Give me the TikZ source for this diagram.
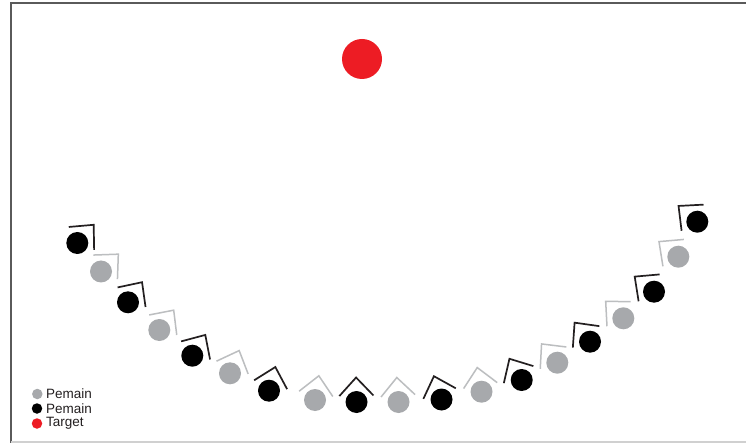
\documentclass[tikz,border=0pt]{standalone}
\usepackage{fontspec}
\setmainfont{Liberation Sans}
\usetikzlibrary{calc}
\definecolor{robgray}{HTML}{A7A9AC}
\definecolor{tgtred}{HTML}{ED1C24}
\definecolor{darkline}{HTML}{231F20}
\definecolor{lightline}{HTML}{BCBEC0}
\definecolor{framedark}{HTML}{5A5A5A}
\definecolor{framelight}{HTML}{D0D0D0}
\tikzset{
  blk/.style={circle, fill=black, minimum size=22pt, inner sep=0pt},
  gry/.style={circle, fill=robgray, minimum size=22pt, inner sep=0pt},
  blkline/.style={draw=darkline, line width=1.7pt},
  gryline/.style={draw=lightline, line width=1.5pt},
  target/.style={circle, fill=tgtred, minimum size=40pt, inner sep=0pt},
  legdot/.style={circle, minimum size=10.5pt, inner sep=0pt},
  legtext/.style={anchor=west, inner sep=0pt, text=darkline, font=\fontsize{13.5}{15}\selectfont},
}
% name, x, y (screen px), heading (deg), type
\newcommand{\robot}[5]{%
  \node[#5] (#1) at (#2,-#3) {};
  \coordinate (#1-apex) at ($(#1)+(#4:24.5)$);
  \draw[#5line] ($(#1-apex)+({#4+180+43}:25)$) -- (#1-apex) -- ($(#1-apex)+({#4+180-43}:25)$);
}
\begin{document}
\begin{tikzpicture}[x=1pt,y=1pt]
\useasboundingbox (0,0) rectangle (746,-443);
\fill[white] (0,0) rectangle (746,-443);
% frame
\draw[framedark, line width=2pt] (11,-443) -- (11,-3) -- (746,-3);
\draw[framelight, line width=1.2pt] (11,-442) -- (746,-442);
% target
\node[target] (tgt) at (362,-59) {};
% robots
\robot{b1}{77.3}{243}{48}{blk}
\robot{g1}{101}{271.5}{45}{gry}
\robot{b2}{128}{302.3}{55}{blk}
\robot{g2}{159.3}{330}{54}{gry}
\robot{b3}{192.3}{355.7}{58}{blk}
\robot{g3}{230}{373.3}{68}{gry}
\robot{b4}{269}{390.7}{75}{blk}
\robot{g4}{315}{400}{81}{gry}
\robot{b5}{356.5}{402}{91}{blk}
\robot{g5}{398.5}{402}{94}{gry}
\robot{b6}{441.5}{399.5}{108}{blk}
\robot{g6}{481.5}{391.7}{100}{gry}
\robot{b7}{521.7}{380}{120}{blk}
\robot{g7}{557.3}{362.7}{130}{gry}
\robot{b8}{590}{341.7}{129}{blk}
\robot{g8}{623.3}{318.3}{136}{gry}
\robot{b9}{654}{291.7}{142}{blk}
\robot{g9}{678.3}{256.7}{142}{gry}
\robot{b10}{697.3}{221.7}{140}{blk}
% legend
\node[legdot, fill=robgray] (lg1) at (37.3,-394) {};
\node[legdot, fill=black] (lg2) at (37,-408.5) {};
\node[legdot, fill=tgtred] (lg3) at (37,-423.5) {};
\node[legtext] (lt1) at (46,-394) {Pemain};
\node[legtext] (lt2) at (46,-408.5) {Pemain};
\node[legtext] (lt3) at (46,-423.5) {Target};
\end{tikzpicture}
\end{document}
